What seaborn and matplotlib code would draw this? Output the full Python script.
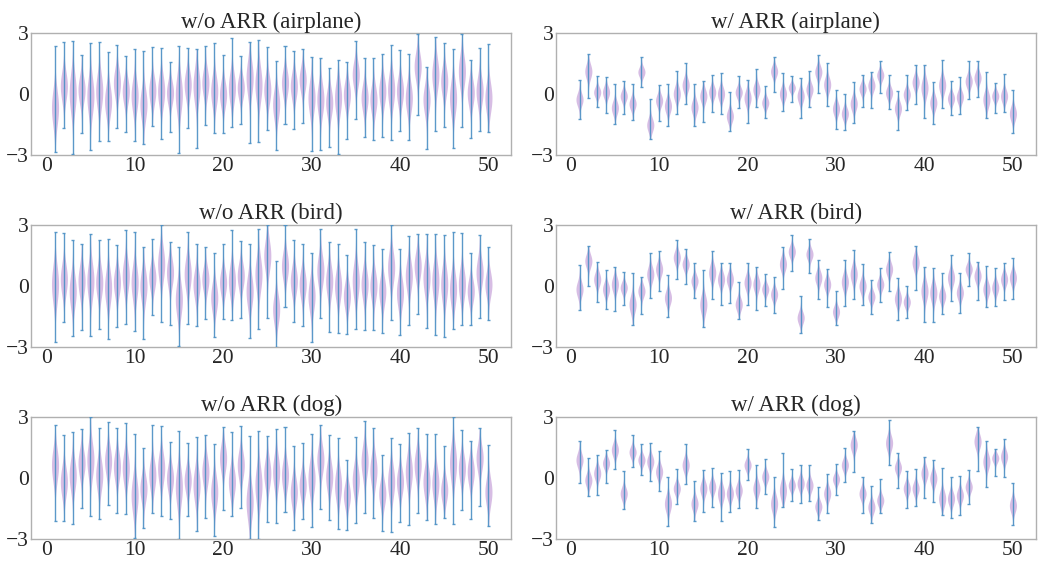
import math
import numpy as np
import pandas as pd
import matplotlib
matplotlib.use("Agg")
import matplotlib.pyplot as plt
import seaborn as sns

# ---------------- data ----------------
positions = list(range(1, 51))
titles = ["w/o ARR (airplane)", "w/ ARR (airplane)",
          "w/o ARR (bird)", "w/ ARR (bird)",
          "w/o ARR (dog)", "w/ ARR (dog)"]
xticks = [0, 10, 20, 30, 40, 50]
yticks = [-3, 0, 3]

# w/o ARR (airplane)
wo_air_center = [-0.69, 0.38, 0.05, 0.20, -0.10, 0.13, -0.36, 0.54, 0.13, -0.10,
                 -0.52, 0.16, 0.13, 0.05, -0.03, 0.46, 0.38, 0.54, 0.13, -0.03,
                 0.30, 0.30, 0.79, 0.46, 0.20, -0.52, 0.54, 0.38, 0.70, -0.20,
                 -0.28, -0.44, -0.20, -0.03, 0.95, -0.20, -0.28, 0.13, 0.20, 0.13,
                 -0.20, 1.36, -0.28, 0.95, 0.62, -0.20, 1.11, 0.05, 0.13, -0.20]
wo_air_max = [2.34, 2.54, 2.59, 1.90, 2.50, 2.54, 2.07, 2.41, 1.85, 2.20,
              2.10, 2.30, 2.25, 1.56, 2.34, 2.25, 2.20, 2.34, 2.49, 1.90,
              2.77, 1.85, 2.54, 2.64, 2.30, 1.60, 2.34, 2.10, 2.20, 1.80,
              1.75, 1.30, 1.69, 1.59, 2.59, 1.75, 1.75, 1.95, 2.39, 2.15,
              1.95, 2.95, 1.31, 2.79, 2.49, 2.20, 2.95, 1.66, 2.25, 2.44]
wo_air_min = [-2.87, -1.67, -2.98, -1.93, -2.75, -2.33, -2.33, -1.67, -1.89, -2.33,
              -2.48, -1.61, -2.23, -1.89, -2.93, -1.67, -2.67, -1.56, -1.93, -1.93,
              -1.64, -1.51, -2.41, -2.38, -1.77, -2.79, -1.51, -1.74, -1.44, -2.82,
              -2.77, -2.62, -2.98, -2.23, -1.25, -2.13, -2.28, -2.13, -2.28, -1.82,
              -2.28, -1.02, -2.72, -1.82, -1.62, -2.69, -1.64, -2.18, -1.84, -1.89]

# w/ ARR (airplane)
w_air_center = [-0.28, 1.11, 0.08, 0.08, -0.69, -0.11, -0.49, 1.08, -1.54, -0.33,
                -0.60, 0.00, 0.43, -0.66, -0.11, 0.08, 0.00, -1.10, 0.08, -0.20,
                0.21, -0.44, 1.11, 0.00, 0.30, -0.11, 0.21, 1.08, 0.46, -0.74,
                -0.98, -0.49, 0.25, 0.41, 0.92, 0.05, -0.72, -0.03, 0.57, 0.30,
                -0.44, 0.43, -0.23, -0.16, 0.62, 0.79, -0.28, -0.11, -0.11, -0.98]
w_air_max = [0.67, 1.98, 0.87, 0.85, 0.48, 0.64, 0.48, 1.80, -0.23, 0.43,
             0.48, 1.11, 1.51, 0.48, 0.62, 0.92, 1.02, 0.07, 0.87, 0.67,
             1.21, 0.38, 1.80, 1.02, 0.86, 0.79, 1.15, 1.90, 1.51, 0.21,
             -0.02, 0.59, 0.92, 1.07, 1.61, 0.95, 0.13, 0.92, 1.41, 1.41,
             0.57, 1.66, 0.62, 0.82, 1.61, 1.61, 1.08, 0.52, 1.00, 0.21]
w_air_min = [-1.23, -0.20, -0.66, -0.93, -1.48, -1.00, -1.28, 0.33, -2.23, -1.34,
             -1.61, -1.00, -0.52, -1.59, -1.38, -0.90, -1.00, -1.82, -0.70, -1.44,
             -0.66, -1.18, 0.10, -0.85, -0.38, -1.21, -0.66, 0.03, -0.61, -1.72,
             -1.79, -1.44, -0.66, -0.70, 0.05, -0.75, -1.80, -0.80, -0.49, -1.21,
             -1.51, -0.72, -1.05, -0.98, -0.23, -0.18, -1.18, -0.97, -0.90, -1.92]

# w/o ARR (bird)
wo_bird_center = [0.07, 0.32, -0.26, 0.24, 0.24, 0.16, -0.09, 0.16, 0.49, 0.16,
                  -0.01, 0.40, 1.07, 0.65, -0.67, 0.57, 0.07, 0.32, -0.59, 0.16,
                  0.24, 0.49, -0.26, 0.57, 1.48, -1.17, 0.98, 0.24, 0.07, -0.50,
                  0.74, 0.24, -0.01, -0.50, 0.24, 0.07, -0.01, -0.26, 0.90, -0.34,
                  0.49, 0.98, 0.40, 0.24, 0.07, -0.17, 0.07, -0.26, 0.65, 0.07]
wo_bird_max = [2.64, 2.59, 2.24, 2.06, 2.54, 2.24, 2.29, 2.01, 2.74, 2.64,
               1.94, 2.29, 3.00, 2.14, 1.90, 2.64, 2.09, 1.94, 1.64, 2.09,
               2.74, 2.19, 2.06, 2.79, 3.00, 1.25, 3.00, 2.24, 2.09, 1.64,
               2.82, 2.14, 2.06, 1.50, 2.83, 2.14, 2.04, 1.81, 3.00, 1.84,
               2.44, 2.54, 2.57, 2.54, 2.49, 2.65, 2.59, 1.64, 2.49, 1.94]
wo_bird_min = [-2.78, -1.78, -2.50, -2.19, -2.50, -2.12, -2.65, -2.01, -1.88, -2.22,
               -2.65, -1.43, -1.81, -1.91, -2.95, -1.88, -1.98, -1.63, -2.54, -1.63,
               -1.71, -1.58, -2.57, -2.12, -1.58, -3.00, -1.03, -1.78, -1.98, -2.77,
               -1.61, -2.27, -2.32, -2.37, -2.12, -2.16, -2.16, -2.32, -1.71, -2.42,
               -1.91, -1.41, -2.06, -2.45, -2.52, -2.11, -1.91, -1.93, -1.60, -1.71]

# w/ ARR (bird)
w_bird_center = [-0.17, 1.23, 0.32, -0.17, 0.07, -0.09, -0.92, -0.26, 0.57, 0.82,
                 -0.59, 1.40, 1.07, 0.24, -0.92, 0.65, 0.32, 0.32, -0.92, 0.16,
                 0.07, -0.17, -0.42, 1.07, 1.69, -1.58, 1.56, 0.40, 0.07, -1.28,
                 0.19, 0.57, -0.01, -0.54, 0.07, 0.82, -0.64, -0.80, 1.15, -0.26,
                 -0.34, -0.50, 0.40, -0.34, 0.82, 0.49, -0.17, -0.09, 0.32, 0.40]
w_bird_max = [1.05, 1.99, 1.20, 0.79, 0.95, 0.69, 0.62, 0.45, 1.64, 1.74,
              0.55, 2.24, 1.84, 1.15, 0.79, 1.74, 1.15, 1.13, 0.21, 1.13,
              0.95, 0.60, 0.45, 1.94, 2.49, -0.49, 2.29, 1.30, 0.85, -0.24,
              1.28, 1.79, 1.10, 0.30, 0.90, 1.69, 0.40, -0.01, 1.99, 0.95,
              0.90, 0.62, 1.51, 0.65, 1.60, 1.20, 1.00, 0.90, 1.15, 1.35]
w_bird_min = [-1.17, -0.01, -0.82, -1.13, -1.26, -0.93, -1.93, -1.38, -0.59, -0.27,
              -1.53, 0.32, 0.11, -0.60, -2.02, -0.64, -0.93, -0.83, -1.66, -0.93,
              -1.17, -0.98, -1.33, -0.14, 0.74, -2.32, 0.64, -0.64, -1.03, -1.93,
              -0.98, -0.64, -0.93, -1.38, -0.79, -0.24, -1.68, -1.60, -0.19, -1.78,
              -1.78, -1.38, -0.74, -1.33, 0.01, -0.69, -1.03, -0.98, -0.70, -0.67]

# w/o ARR (dog)
wo_dog_center = [0.63, -0.20, 0.13, 0.72, 0.88, 0.13, 0.83, 0.55, 0.47, -0.87,
                 -0.53, 0.13, 0.47, -0.03, -0.45, -0.12, -0.37, 0.30, -0.70, 0.97,
                 -0.20, 0.63, -1.20, -0.37, 0.22, 0.30, 0.13, -0.70, -0.37, -0.03,
                 0.88, 0.05, -0.37, -0.87, -0.12, 0.80, 0.38, -0.78, -0.20, -0.20,
                 0.30, 0.63, -0.20, -0.28, -0.62, 0.72, 0.47, 0.30, 0.97, -0.70]
wo_dog_max = [2.60, 2.12, 2.27, 2.42, 3.00, 2.45, 2.77, 2.47, 2.72, 2.17,
              1.45, 2.62, 2.57, 1.75, 2.32, 1.72, 2.02, 2.12, 1.67, 2.50,
              2.27, 2.55, 2.07, 2.30, 2.07, 2.42, 2.52, 1.57, 1.70, 2.17,
              2.62, 2.12, 1.97, 0.90, 2.02, 2.82, 2.47, 1.12, 1.97, 1.67,
              2.22, 2.47, 2.17, 2.17, 1.57, 3.00, 2.37, 1.82, 2.47, 1.62]
wo_dog_min = [-2.15, -2.15, -2.28, -1.48, -1.88, -2.05, -1.33, -1.73, -1.78, -2.95,
              -2.48, -1.73, -1.88, -2.03, -3.00, -1.88, -2.63, -2.00, -2.88, -1.58,
              -1.88, -1.48, -3.00, -3.00, -2.18, -2.23, -1.68, -2.58, -2.03, -2.43,
              -1.53, -2.08, -2.53, -2.58, -2.25, -1.73, -1.98, -2.63, -2.68, -2.18,
              -2.33, -1.73, -2.08, -2.28, -1.98, -2.28, -1.58, -2.03, -1.37, -2.38]

# w/ ARR (dog)
w_dog_center = [0.88, -0.12, 0.22, 0.72, 1.38, -0.78, 1.27, 0.88, 0.80, 0.30,
                -1.28, -0.53, 0.63, -1.28, -0.53, -0.45, -0.78, -0.78, -0.62, 0.63,
                -0.53, 0.05, -1.28, -0.62, -0.37, -0.28, -0.37, -1.42, -0.78, -0.07,
                0.63, 1.63, -0.78, -1.45, -1.12, 1.72, 0.50, -0.53, -0.53, 0.22,
                -0.03, -1.03, -1.03, -0.87, -0.45, 1.80, 0.80, 0.97, 1.05, -1.37]
w_dog_max = [1.82, 1.00, 1.12, 1.35, 2.35, 0.32, 2.12, 1.67, 1.70, 1.32,
             0.02, 0.42, 1.67, -0.18, 0.37, 0.47, 0.22, 0.32, 0.37, 1.42,
             0.62, 0.92, 0.02, 1.22, 0.42, 0.62, 0.62, -0.43, 0.20, 0.67,
             1.47, 2.32, 0.02, -0.38, -0.08, 2.87, 1.22, 0.32, 0.45, 1.05,
             0.90, 0.50, 0.02, 0.07, 0.37, 2.52, 1.82, 1.42, 1.92, -0.25]
w_dog_min = [-0.25, -0.88, -0.83, -0.28, 0.42, -1.53, 0.52, 0.12, -0.18, -0.65,
             -2.38, -1.28, -0.33, -2.13, -1.68, -1.43, -2.13, -1.68, -1.48, -0.13,
             -1.48, -0.78, -2.45, -1.43, -1.13, -1.23, -1.13, -2.08, -1.73, -0.83,
             -0.23, 0.27, -1.73, -2.23, -1.73, 0.62, -0.48, -1.48, -1.38, -0.98,
             -1.18, -1.83, -1.98, -1.83, -1.28, 0.35, -0.43, 0.07, 0.02, -2.35]

panels = [
    (wo_air_center, wo_air_min, wo_air_max),
    (w_air_center, w_air_min, w_air_max),
    (wo_bird_center, wo_bird_min, wo_bird_max),
    (w_bird_center, w_bird_min, w_bird_max),
    (wo_dog_center, wo_dog_min, wo_dog_max),
    (w_dog_center, w_dog_min, w_dog_max),
]

# ---------------- helpers ----------------
def norm_ppf(p):
    lo, hi = -8.0, 8.0
    for _ in range(60):
        mid = 0.5 * (lo + hi)
        if 0.5 * (1 + math.erf(mid / math.sqrt(2))) < p:
            lo = mid
        else:
            hi = mid
    return 0.5 * (lo + hi)

N_Q = 60
z_template = np.array([norm_ppf((i + 0.5) / N_Q) for i in range(N_Q)])


def violin_frame(center, vmin, vmax):
    rows = []
    for pos, c, lo, hi in zip(positions, center, vmin, vmax):
        s = 0.15 * (hi - lo)
        vals = c + s * z_template
        vals = vals[(vals >= lo) & (vals <= hi)]
        vals = np.concatenate([[lo], vals, [hi]])
        rows.append(pd.DataFrame({"pos": pos, "val": vals}))
    return pd.concat(rows, ignore_index=True)


# ---------------- plotting ----------------
sns.set_theme(style="white")
plt.rcParams["font.family"] = ["Liberation Serif", "DejaVu Serif"]
plt.rcParams["axes.unicode_minus"] = True

body_color = "#c6a2d9"
line_color = "#4a90c4"
spine_color = "#b0b0b0"

fig, axes = plt.subplots(3, 2, figsize=(10.38, 5.61), dpi=100)
fig.subplots_adjust(left=0.030, right=0.998, bottom=0.040, top=0.941,
                    wspace=0.092, hspace=0.58)

for ax, title, (center, vmin, vmax) in zip(axes.flat, titles, panels):
    df = violin_frame(center, vmin, vmax)
    sns.violinplot(data=df, x="pos", y="val", native_scale=True, inner=None,
                   cut=0, density_norm="width", width=0.8, color=body_color,
                   saturation=1, linewidth=0, alpha=0.7, ax=ax)
    ax.vlines(positions, vmin, vmax, color=line_color, linewidth=1.0,
              alpha=0.9, zorder=3)
    ax.hlines(vmin, np.array(positions) - 0.17, np.array(positions) + 0.17,
              color=line_color, linewidth=1.0, alpha=0.9, zorder=3)
    ax.hlines(vmax, np.array(positions) - 0.17, np.array(positions) + 0.17,
              color=line_color, linewidth=1.0, alpha=0.9, zorder=3)
    ax.set_xlim(-1.7, 52.6)
    ax.set_ylim(-3, 3)
    ax.set_xticks(xticks)
    ax.set_xticklabels([str(t) for t in xticks])
    ax.set_yticks(yticks)
    ax.set_yticklabels([str(t).replace("-", "\u2212") for t in yticks])
    ax.set_xlabel("")
    ax.set_ylabel("")
    ax.set_title(title, fontsize=16.5, pad=4)
    ax.tick_params(axis="both", labelsize=15.5, length=0, pad=1.5)
    for sp in ax.spines.values():
        sp.set_visible(True)
        sp.set_color(spine_color)
        sp.set_linewidth(1.0)

fig.savefig("out.png", dpi=100)
